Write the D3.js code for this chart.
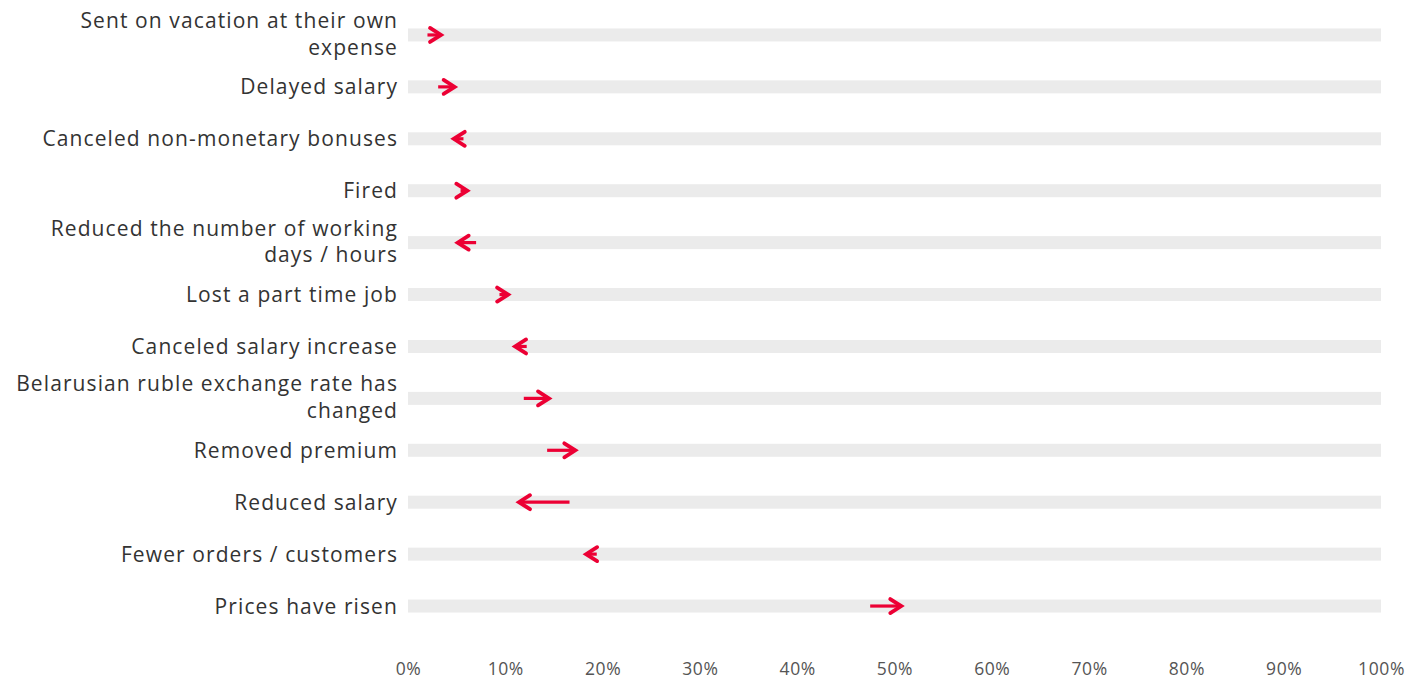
<!DOCTYPE html>
<html>
<head>
<meta charset="utf-8">
<script src="https://cdn.jsdelivr.net/npm/d3@7"></script>
<style>
  html, body { margin: 0; padding: 0; background: #fff; }
  svg { display: block; }
  .cat { font-family: "Open Sans", sans-serif; font-size: 21px; letter-spacing: 1.1px; fill: #333; }
  .tick text { font-family: "Open Sans", sans-serif; font-size: 17.5px; letter-spacing: 0.6px; fill: #555; }
</style>
</head>
<body>
<svg id="chart" width="1424" height="679"></svg>
<script>
// Share of respondents (%) per consequence: earlier survey wave -> later wave
const categories = [
  "Sent on vacation at their own expense",
  "Delayed salary",
  "Canceled non-monetary bonuses",
  "Fired",
  "Reduced the number of working days / hours",
  "Lost a part time job",
  "Canceled salary increase",
  "Belarusian ruble exchange rate has changed",
  "Removed premium",
  "Reduced salary",
  "Fewer orders / customers",
  "Prices have risen"
];
const labelLines = [
  ["Sent on vacation at their own", "expense"],
  ["Delayed salary"],
  ["Canceled non-monetary bonuses"],
  ["Fired"],
  ["Reduced the number of working", "days / hours"],
  ["Lost a part time job"],
  ["Canceled salary increase"],
  ["Belarusian ruble exchange rate has", "changed"],
  ["Removed premium"],
  ["Reduced salary"],
  ["Fewer orders / customers"],
  ["Prices have risen"]
];
const startValues = [2.0, 3.1, 5.7, 5.4, 7.0, 9.4, 12.2, 11.9, 14.3, 16.6, 19.4, 47.5];
const endValues   = [3.6, 5.0, 4.5, 6.3, 4.9, 10.5, 10.8, 14.7, 17.4, 11.2, 18.1, 50.9];
const tickValues  = [0, 10, 20, 30, 40, 50, 60, 70, 80, 90, 100];

const rows = categories.map((c, i) => ({
  cat: c, lines: labelLines[i], start: startValues[i], end: endValues[i]
}));

const svg = d3.select("#chart");
const W = 1424, H = 679;
const margin = { left: 408, right: 43, top: 9, bottom: 47 };
const red = "#ec0034";

const x = d3.scaleLinear().domain([0, 100]).range([margin.left, W - margin.right]);
const y = d3.scaleBand().domain(categories).range([margin.top, H - margin.bottom]);
const cy = d => y(d) + y.bandwidth() / 2;

// background track per row
svg.append("g").selectAll("rect").data(rows).join("rect")
  .attr("x", x(0)).attr("width", x(100) - x(0))
  .attr("y", d => cy(d.cat) - 6.5).attr("height", 13)
  .attr("fill", "#ebebeb");

// category labels, right-aligned next to the tracks
const lab = svg.append("g").selectAll("text").data(rows).join("text")
  .attr("class", "cat")
  .attr("text-anchor", "end")
  .attr("x", x(0) - 10)
  .attr("y", d => cy(d.cat) - (d.lines.length - 1) * 14.5);
lab.selectAll("tspan").data(d => d.lines).join("tspan")
  .attr("x", x(0) - 10)
  .attr("dy", (t, i) => i === 0 ? "0.36em" : "26.5px")
  .text(t => t);

// arrows: shaft from start to end, chevron head at end
const head = 11, half = 7;
const g = svg.append("g");
rows.forEach(d => {
  const yy = cy(d.cat);
  const dir = d.end >= d.start ? 1 : -1;
  const tip = x(d.end) - dir * 2;
  g.append("line")
    .attr("x1", x(d.start)).attr("x2", tip)
    .attr("y1", yy).attr("y2", yy)
    .attr("stroke", red).attr("stroke-width", 3.2);
  g.append("path")
    .attr("d", `M${tip - dir * head},${yy - half}L${tip},${yy}L${tip - dir * head},${yy + half}`)
    .attr("fill", "none").attr("stroke", red).attr("stroke-width", 3.8)
    .attr("stroke-linejoin", "miter").attr("stroke-linecap", "round");
});

// x axis
const axis = svg.append("g")
  .attr("transform", `translate(0, ${H - 4})`)
  .call(d3.axisBottom(x).tickValues(tickValues).tickFormat(v => v + "%").tickSize(0).tickPadding(0));
axis.select(".domain").remove();
axis.selectAll("text").attr("dy", "0");
</script>
</body>
</html>
